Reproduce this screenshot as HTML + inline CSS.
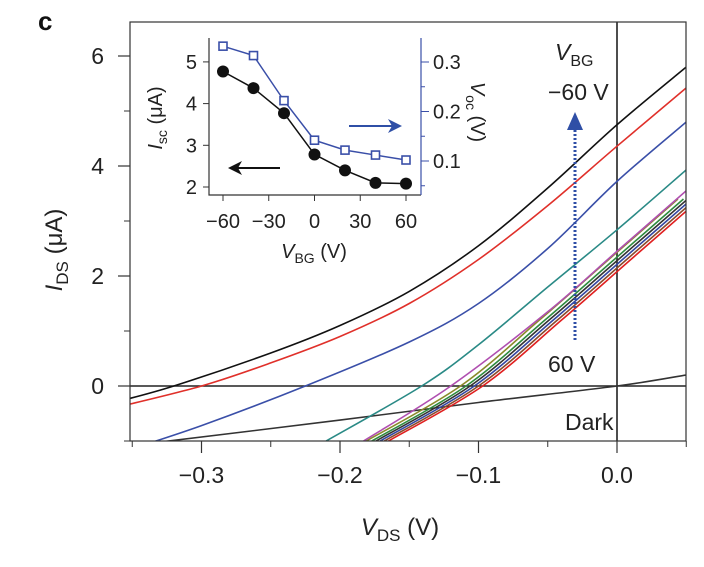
<!DOCTYPE html>
<html><head><meta charset="utf-8"><style>
body{margin:0;background:#fff}
svg{font-family:"Liberation Sans",sans-serif}
</style></head><body>
<svg width="704" height="562" viewBox="0 0 704 562">
<defs>
<clipPath id="pc"><rect x="130" y="22" width="556" height="419"/></clipPath>
</defs>
<g id="main"></g>
<g id="inset"></g>
</svg>
<script>
// ---- main chart data ----
const xTicks=[-0.3,-0.2,-0.1,0.0];
const xTickLabels=["−0.3","−0.2","−0.1","0.0"];
const yTicks=[0,2,4,6];
const seriesNames=["vbg-m60","vbg-m40","vbg-m20","vbg-0","vbg-20","vbg-40a","vbg-40b","vbg-60a","vbg-60b","vbg-60c","dark"];
const seriesColors=["#111","#e0302a","#3a4fa8","#2a8a86","#b04fb0","#8a8a2a","#2e8a3e","#333","#3346a0","#8a4a2a","#e02020"];
const xsBlack=[-0.36,-0.32,-0.25,-0.2,-0.15,-0.1,-0.05,0,0.05];
const ysBlack=[-0.28,0,0.6,1.1,1.72,2.55,3.6,4.75,5.8];
const xsRed=[-0.36,-0.3,-0.25,-0.2,-0.15,-0.1,-0.05,0,0.05];
const ysRed=[-0.38,0,0.42,0.9,1.5,2.3,3.28,4.36,5.42];
const xsBlue=[-0.36,-0.3,-0.225,-0.15,-0.1,-0.05,0,0.05];
const ysBlue=[-1.22,-0.72,0,0.8,1.5,2.5,3.72,4.8];
const xsTeal=[-0.21,-0.141,-0.1,-0.05,0,0.05];
const ysTeal=[-1,0,0.75,1.8,2.84,3.93];
const xsMag=[-0.183,-0.12,-0.05,0,0.05];
const ysMag=[-1,0,1.35,2.45,3.55];
const bundleOffsets=[0.004,0.008,0.011,0.014,0.017,0.02];
const xsBundle=[-0.175,-0.107,-0.05,0,0.05];
const ysBundle=[-1,0,1.2,2.3,3.4];
const xsDark=[-0.35,-0.2,-0.1,0,0.05];
const ysDark=[-1.08,-0.62,-0.3,0,0.2];
// ---- inset data ----
const vbg=[-60,-40,-20,0,20,40,60];
const isc=[4.77,4.37,3.77,2.78,2.4,2.1,2.08];
const voc=[0.332,0.313,0.222,0.142,0.122,0.112,0.102];
const insetXTicks=[-60,-30,0,30,60];
const insetXLabels=["−60","−30","0","30","60"];
const insetYTicks=[2,3,4,5];
const insetRTicks=[0.1,0.2,0.3];

const NS="http://www.w3.org/2000/svg";
function mk(parent,tag,attrs,name,txt){const e=document.createElementNS(NS,tag);for(const k in attrs)e.setAttribute(k,attrs[k]);


if(txt!==undefined)e.textContent=txt;parent.appendChild(e);return e;}
const X=v=>617+(v)*1385, Y=v=>386-v*55;
const g=document.getElementById('main');
function smooth(pts){let d="M"+pts[0][0]+","+pts[0][1];for(let i=0;i<pts.length-1;i++){const p0=pts[Math.max(i-1,0)],p1=pts[i],p2=pts[i+1],p3=pts[Math.min(i+2,pts.length-1)];
const c1=[p1[0]+(p2[0]-p0[0])/6,p1[1]+(p2[1]-p0[1])/6],c2=[p2[0]-(p3[0]-p1[0])/6,p2[1]-(p3[1]-p1[1])/6];d+=" C"+c1+" "+c2+" "+p2;}return d;}
const cg=mk(g,'g',{'clip-path':'url(#pc)'},'plot-area');
mk(cg,'line',{x1:130,x2:686,y1:Y(0),y2:Y(0),stroke:'#222','stroke-width':1.6},'zero-current-line');
mk(cg,'line',{x1:X(0),x2:X(0),y1:22,y2:441,stroke:'#222','stroke-width':1.6},'zero-voltage-line');
function line(xs,ys,col,name,dx){const pts=xs.map((x,i)=>[X(x+(dx||0)),Y(ys[i])]);mk(cg,'path',{d:smooth(pts),fill:'none',stroke:col,'stroke-width':1.6},name);}
line(xsDark,ysDark,'#333','dark-curve');
bundleOffsets.forEach((o,i)=>line(xsBundle,ysBundle,seriesColors[5+i],'curve-'+seriesNames[5+i],o-0.01));
line(xsMag,ysMag,seriesColors[4],'curve-vbg-20');
line(xsTeal,ysTeal,seriesColors[3],'curve-vbg-0');
line(xsBlue,ysBlue,seriesColors[2],'curve-vbg-m20');
line(xsRed,ysRed,seriesColors[1],'curve-vbg-m40');
line(xsBlack,ysBlack,seriesColors[0],'curve-vbg-m60');
mk(g,'rect',{x:130,y:22,width:556,height:419,fill:'none',stroke:'#333','stroke-width':1.2},'plot-frame');
xTicks.forEach((t,i)=>{mk(g,'line',{x1:X(t),x2:X(t),y1:441,y2:453,stroke:'#333','stroke-width':1.2},'x-tick');
mk(g,'text',{x:X(t),y:483,'font-size':23,'text-anchor':'middle',fill:'#222'},'x-tick-label',xTickLabels[i]);});
[-0.35,-0.25,-0.15,-0.05,0.05].forEach(t=>mk(g,'line',{x1:X(t),x2:X(t),y1:441,y2:447,stroke:'#333','stroke-width':1},'x-minor-tick'));
yTicks.forEach(t=>{mk(g,'line',{x1:118,x2:130,y1:Y(t),y2:Y(t),stroke:'#333','stroke-width':1.2},'y-tick');
mk(g,'text',{x:104,y:Y(t)+8,'font-size':23,'text-anchor':'end',fill:'#222'},'y-tick-label',String(t));});
[-1,1,3,5].forEach(t=>mk(g,'line',{x1:124,x2:130,y1:Y(t),y2:Y(t),stroke:'#333','stroke-width':1},'y-minor-tick'));
const xl=mk(g,'text',{x:400,y:535,'font-size':24,'text-anchor':'middle',fill:'#222'},'x-axis-title');
xl.innerHTML='<tspan font-style="italic">V</tspan><tspan font-size="17" dy="6">DS</tspan><tspan dy="-6"> (V)</tspan>';
const yl=mk(g,'text',{x:0,y:0,'font-size':24,'text-anchor':'middle',fill:'#222',transform:'translate(62,250) rotate(-90)'},'y-axis-title');
yl.innerHTML='<tspan font-style="italic">I</tspan><tspan font-size="17" dy="6">DS</tspan><tspan dy="-6"> (μA)</tspan>';
mk(g,'text',{x:38,y:30,'font-size':26,'font-weight':'bold',fill:'#111'},'panel-label','c');
const vb=mk(g,'text',{x:555,y:60,'font-size':23,fill:'#222'},'vbg-label');
vb.innerHTML='<tspan font-style="italic">V</tspan><tspan font-size="16" dy="6">BG</tspan>';
mk(g,'text',{x:548,y:100,'font-size':23,fill:'#222'},'vbg-start-label','−60 V');
mk(g,'text',{x:548,y:372,'font-size':23,fill:'#222'},'vbg-end-label','60 V');
mk(g,'text',{x:565,y:430,'font-size':23,fill:'#222'},'dark-label','Dark');
mk(g,'line',{x1:575,x2:575,y1:340,y2:125,stroke:'#2f4fa6','stroke-width':3,'stroke-dasharray':'2,2'},'sweep-arrow');
mk(g,'path',{d:'M567,130 L575,112 L583,130 z',fill:'#2f4fa6'},'sweep-arrowhead');
// inset
const ig=document.getElementById('inset');
const IX=v=>314.5+v*1.525, IY=v=>187-(v-2)*41.7, IR=v=>161-(v-0.1)*495;
mk(ig,'rect',{x:209,y:38,width:212,height:157,fill:'#fff',stroke:'none'},'inset-bg');
mk(ig,'polyline',{points:'209,38 209,195 421,195',fill:'none',stroke:'#333','stroke-width':1.2},'inset-left-axis');
mk(ig,'line',{x1:421,x2:421,y1:38,y2:195,stroke:'#3a4fa8','stroke-width':1.2},'inset-right-axis');
insetXTicks.forEach((t,i)=>{mk(ig,'line',{x1:IX(t),x2:IX(t),y1:195,y2:201,stroke:'#333'},'inset-x-tick');
mk(ig,'text',{x:IX(t),y:228,'font-size':20,'text-anchor':'middle',fill:'#222'},'inset-x-tick-label',insetXLabels[i]);});
insetYTicks.forEach(t=>{mk(ig,'line',{x1:203,x2:209,y1:IY(t),y2:IY(t),stroke:'#333'},'inset-y-tick');
mk(ig,'text',{x:197,y:IY(t)+7,'font-size':20,'text-anchor':'end',fill:'#222'},'inset-y-tick-label',String(t));});
[0.05,0.15,0.25].forEach(t=>mk(ig,'line',{x1:421,x2:425,y1:IR(t),y2:IR(t),stroke:'#3a4fa8'},'inset-right-minor-tick'));
insetRTicks.forEach(t=>{mk(ig,'line',{x1:421,x2:429,y1:IR(t),y2:IR(t),stroke:'#3a4fa8'},'inset-right-tick');
mk(ig,'text',{x:433,y:IR(t)+7,'font-size':20,fill:'#222'},'inset-right-tick-label',t.toFixed(1));});
mk(ig,'polyline',{points:vbg.map((v,i)=>IX(v)+','+IR(voc[i])).join(' '),fill:'none',stroke:'#3a4fa8','stroke-width':1.5},'voc-line');
mk(ig,'polyline',{points:vbg.map((v,i)=>IX(v)+','+IY(isc[i])).join(' '),fill:'none',stroke:'#111','stroke-width':1.5},'isc-line');
vbg.forEach((v,i)=>{mk(ig,'rect',{x:IX(v)-4,y:IR(voc[i])-4,width:8,height:8,fill:'#fff',stroke:'#3a4fa8','stroke-width':1.6},'voc-point');
mk(ig,'circle',{cx:IX(v),cy:IY(isc[i]),r:6,fill:'#111'},'isc-point');});
mk(ig,'line',{x1:280,x2:236,y1:168,y2:168,stroke:'#111','stroke-width':2},'isc-axis-arrow');
mk(ig,'path',{d:'M228,168 L242,161 L238,168 L242,175 z',fill:'#111'},'isc-arrowhead');
mk(ig,'line',{x1:349,x2:394,y1:126,y2:126,stroke:'#2f4fa6','stroke-width':2},'voc-axis-arrow');
mk(ig,'path',{d:'M402,126 L388,119 L392,126 L388,133 z',fill:'#2f4fa6'},'voc-arrowhead');
const il=mk(ig,'text',{x:0,y:0,'font-size':20,'text-anchor':'middle',fill:'#222',transform:'translate(162,118) rotate(-90)'},'inset-y-title');
il.innerHTML='<tspan font-style="italic">I</tspan><tspan font-size="14" dy="5">sc</tspan><tspan dy="-5"> (μA)</tspan>';
const ir=mk(ig,'text',{x:0,y:0,'font-size':20,'text-anchor':'middle',fill:'#222',transform:'translate(471,112) rotate(90)'},'inset-right-title');
ir.innerHTML='<tspan font-style="italic">V</tspan><tspan font-size="14" dy="5">oc</tspan><tspan dy="-5"> (V)</tspan>';
const ix=mk(ig,'text',{x:314,y:258,'font-size':20,'text-anchor':'middle',fill:'#222'},'inset-x-title');
ix.innerHTML='<tspan font-style="italic">V</tspan><tspan font-size="14" dy="5">BG</tspan><tspan dy="-5"> (V)</tspan>';
</script>
</body></html>
